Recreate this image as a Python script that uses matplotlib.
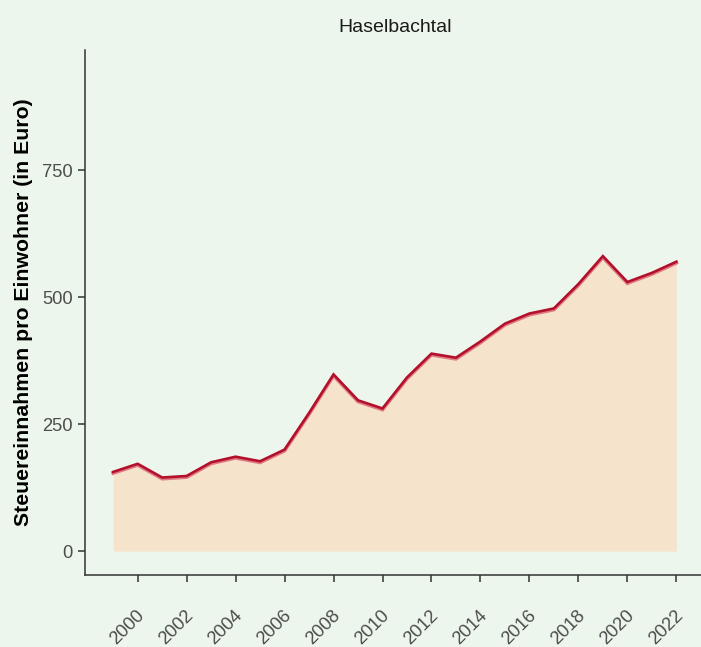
import matplotlib
matplotlib.use("Agg")
import matplotlib.pyplot as plt
import matplotlib.transforms as mtransforms

years = list(range(1999, 2023))
values = [156, 172, 145, 148, 175, 186, 177, 200, 272, 348, 297, 281, 342, 389, 381,
          413, 448, 468, 478, 526, 581, 530, 548, 570]
xticks = list(range(2000, 2023, 2))
yticks = [0, 250, 500, 750]
title = "Haselbachtal"
ylabel = "Steuereinnahmen pro Einwohner (in Euro)"

bg = "#EDF6EC"
plt.rcParams["font.family"] = ["Liberation Sans", "DejaVu Sans"]

fig = plt.figure(figsize=(7.01, 6.47), dpi=100, facecolor=bg)
ax = fig.add_axes([85 / 701, 1 - 575 / 647, 1 - 85 / 701 + 0.005, (575 - 50) / 647])
ax.set_facecolor(bg)

ax.fill_between(years, 0, values, color="#F5E3CB", linewidth=0, zorder=1)
shadow = ax.transData + mtransforms.ScaledTranslation(0, -1.2 / 100, fig.dpi_scale_trans)
ax.plot(years, values, color="#E07A84", linewidth=2.6, transform=shadow, zorder=2,
        solid_joinstyle="miter")
ax.plot(years, values, color="#B3102B", linewidth=1.9, zorder=3, solid_joinstyle="miter")

ax.set_xlim(1997.85, 2023.15)
ax.set_ylim(-47, 987)
ax.set_xticks(xticks)
ax.set_yticks(yticks)
ax.set_yticklabels([str(v) for v in yticks])

for s in ["top", "right"]:
    ax.spines[s].set_visible(False)
for s in ["left", "bottom"]:
    ax.spines[s].set_color("#333333")
    ax.spines[s].set_linewidth(1.1)

ax.tick_params(axis="both", length=5, width=1.1, color="#333333", labelcolor="#4D4D4D",
               labelsize=13.2)
ax.tick_params(axis="y", pad=4)
ax.tick_params(axis="x", pad=33)

ax.set_xticklabels([str(v) for v in xticks], rotation=45, ha="center", va="center",
                   rotation_mode="anchor")
offset = mtransforms.ScaledTranslation(-10 / 100, 0, fig.dpi_scale_trans)
for lab in ax.get_xticklabels():
    lab.set_transform(lab.get_transform() + offset)

ax.set_ylabel(ylabel, fontsize=15.3, fontweight="bold", color="black")
ax.yaxis.set_label_coords(-52 / 616, 0.5)
ax.set_title(title, fontsize=14, color="#1A1A1A", pad=13)

fig.savefig("out.png", dpi=100, facecolor=bg)
